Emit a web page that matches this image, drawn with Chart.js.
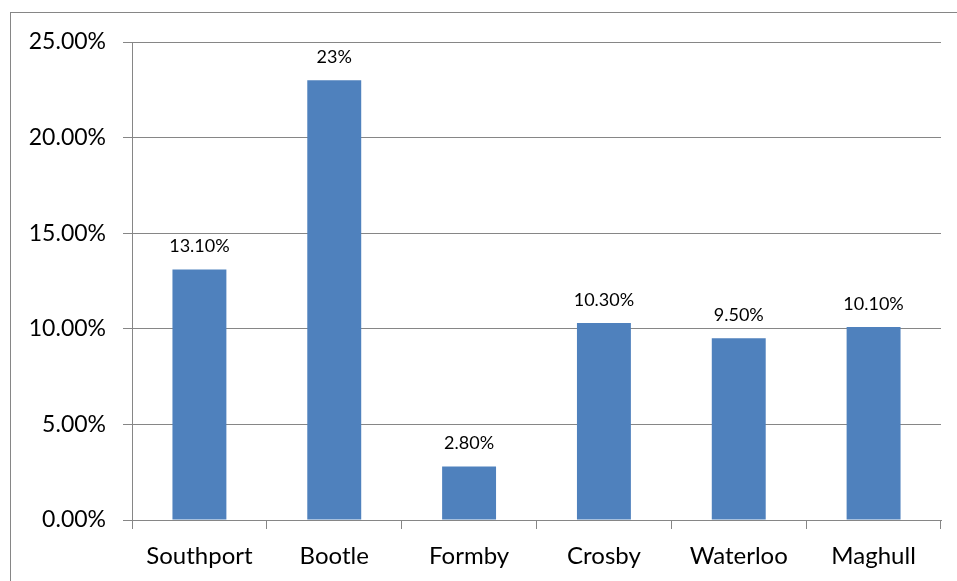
<html>
  <head>
    <script src="https://cdn.jsdelivr.net/npm/chart.js@4"></script>
    <meta charset="utf-8">
    <title>Sefton areas</title>
    <style>
      body { margin: 0; background: #fff; }
      #box { position: relative; width: 957px; height: 581px; }
    </style>
  </head>
  <body>
    <div id="box"><canvas id="myChart"></canvas></div>
    <script type="text/javascript">
      const towns = ['Southport', 'Bootle', 'Formby', 'Crosby', 'Waterloo', 'Maghull'];
      const rates = [13.1, 23, 2.8, 10.3, 9.5, 10.1];
      const rateLabels = ['13.10%', '23%', '2.80%', '10.30%', '9.50%', '10.10%'];
      const gray = '#868686';

      // frame round the chart, like the spreadsheet one
      const frame = {
        id: 'frame',
        beforeDraw(chart) {
          const c = chart.ctx;
          c.save();
          c.strokeStyle = gray;
          c.lineWidth = 1;
          c.strokeRect(10.5, 12.5, 1000, 1000);
          c.restore();
        }
      };

      // value labels above each bar
      const barLabels = {
        id: 'barLabels',
        afterDatasetsDraw(chart) {
          const c = chart.ctx;
          c.save();
          c.font = '18px Lato';
          c.fillStyle = '#000';
          c.textAlign = 'center';
          c.textBaseline = 'middle';
          chart.getDatasetMeta(0).data.forEach((bar, i) => {
            c.fillText(rateLabels[i], bar.x, bar.y - 23);
          });
          c.restore();
        }
      };

      var ctx = document.getElementById('myChart').getContext('2d');
      var chart = new Chart(ctx, {
        type: 'bar',
        data: {
          labels: towns,
          datasets: [{
            data: rates,
            backgroundColor: '#4F81BD',
            barPercentage: 0.8,
            categoryPercentage: 0.5
          }]
        },
        options: {
          responsive: true,
          maintainAspectRatio: false,
          animation: false,
          layout: { padding: { top: 42, right: 16, left: 0, bottom: 0 } },
          plugins: { legend: { display: false }, tooltip: { enabled: false } },
          scales: {
            x: {
              afterFit(scale) { scale.height = 61; },
              grid: { drawOnChartArea: false, tickLength: 9, color: gray, offset: true },
              border: { color: gray, width: 1 },
              ticks: { color: '#000', font: { family: 'Lato', size: 24 }, padding: 13 }
            },
            y: {
              min: 0,
              max: 25,
              afterFit(scale) { scale.width = 132; },
              grid: { color: gray, tickLength: 9 },
              border: { color: gray, width: 1 },
              ticks: {
                stepSize: 5,
                color: '#000',
                padding: 17,
                font: { family: 'Lato', size: 23 },
                callback: v => v.toFixed(2) + '%'
              }
            }
          }
        },
        plugins: [frame, barLabels]
      });
    </script>
  </body>
</html>
